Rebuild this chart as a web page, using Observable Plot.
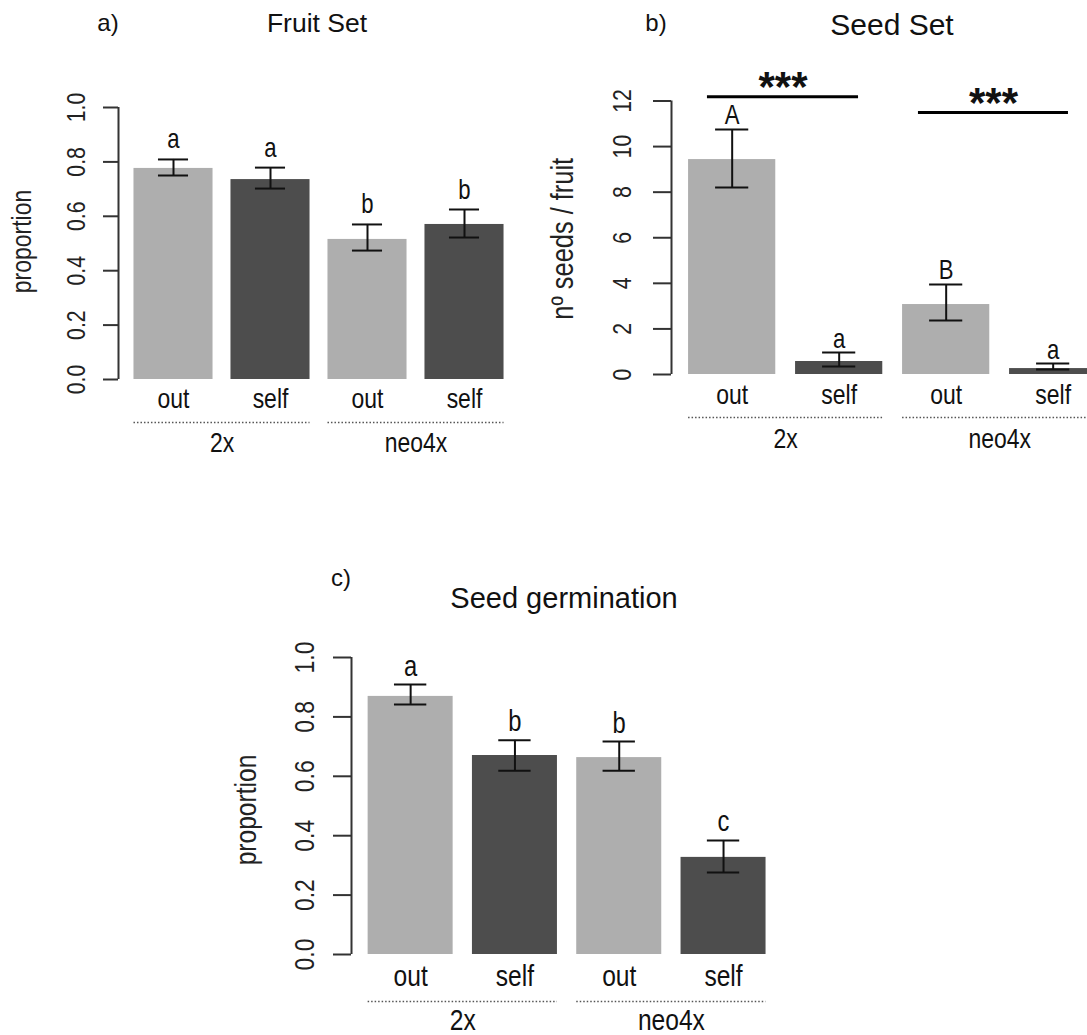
<!DOCTYPE html>
<html><head><meta charset="utf-8">
<script src="https://cdn.jsdelivr.net/npm/d3@7"></script>
<script src="https://cdn.jsdelivr.net/npm/@observablehq/plot@0.6"></script>
<style>
html,body{margin:0;padding:0;background:#fff;}
#page{position:relative;width:1087px;height:1035px;overflow:hidden;background:#fff;}
#page svg{position:absolute;left:0;top:0;}
#page svg [aria-label^="y-axis"] line, #page svg [aria-label^="y-axis"] path{stroke-width:2px;}
.lbl{position:absolute;font-family:"Liberation Sans",Arial,sans-serif;color:#111;white-space:nowrap;line-height:1;transform:translate(-50%,-50%);}
</style></head>
<body><div id="page"></div>
<script>
// ---- shared categories ----
const treatments = ["out", "self", "out", "self"];
const ploidy = ["2x", "2x", "neo4x", "neo4x"];
const groups = ["2x", "neo4x"];

// ---- a) Fruit Set ----
const fruitMean = [0.776, 0.735, 0.515, 0.570];
const fruitLow = [0.750, 0.702, 0.474, 0.522];
const fruitHigh = [0.809, 0.779, 0.570, 0.625];
const fruitLetters = ["a", "a", "b", "b"];
const fruitTicks = [0, 0.2, 0.4, 0.6, 0.8, 1.0];

// ---- b) Seed Set ----
const seedMean = [9.43, 0.57, 3.07, 0.26];
const seedLow = [8.20, 0.35, 2.37, 0.22];
const seedHigh = [10.75, 0.96, 3.95, 0.48];
const seedLetters = ["A", "a", "B", "a"];
const seedTicks = [0, 2, 4, 6, 8, 10, 12];
const sigLabels = ["***", "***"];
const sigY = [12.19, 11.49];
const sigFrom = [0.336, 2.308];
const sigTo = [1.748, 3.710];

// ---- c) Seed germination ----
const germMean = [0.869, 0.670, 0.663, 0.327];
const germLow = [0.842, 0.619, 0.619, 0.276];
const germHigh = [0.909, 0.721, 0.717, 0.384];
const germLetters = ["a", "b", "b", "c"];
const germTicks = [0, 0.2, 0.4, 0.6, 0.8, 1.0];

// ---- fonts: condensed look = regular face, narrowed and stretched across the line ----
const NF = '"Liberation Sans", Arial, Helvetica, sans-serif';   // stretched ("narrow") texts
const RF = '"Liberation Sans", Arial, sans-serif';              // normal texts
const nk = 0.82, STRETCH = 1 / 0.82;

const W = 1087, H = 1035;
const C0 = 0.567, HALF = 0.4075, CAP = 0.155;

function stretchTexts(svg) {
  svg.querySelectorAll("g").forEach(g => {
    if (g.getAttribute("font-family") !== NF) return;
    g.querySelectorAll("text").forEach(t => {
      const tr = t.getAttribute("transform");
      if (tr) t.setAttribute("transform", tr + ` scale(1,${STRETCH})`);
      else {
        const x = +t.getAttribute("x") || 0, y = +t.getAttribute("y") || 0;
        t.setAttribute("transform", `translate(${x},${y}) scale(1,${STRETCH}) translate(${-x},${-y})`);
      }
    });
  });
  return svg;
}

function panel(cfg) {
  const rows = cfg.mean.map((m, i) => ({
    pos: C0 + i, treatment: treatments[i], ploidy: ploidy[i],
    mean: m, low: cfg.low[i], high: cfg.high[i], letter: cfg.letters[i]
  }));
  const grp = groups.map((g, k) => ({
    g, from: C0 + 2 * k - HALF, to: C0 + 2 * k + 1 + HALF, mid: C0 + 2 * k + 0.5
  }));
  const xMax = Math.min(4.14, (W - cfg.axisX) / cfg.step);
  const marks = [
    Plot.rectY(rows, {x1: d => d.pos - HALF, x2: d => d.pos + HALF, y1: 0, y2: "mean", fill: "treatment"}),
    Plot.ruleX(rows, {x: "pos", y1: "low", y2: "high", stroke: "#111", strokeWidth: 2}),
    Plot.ruleY(rows, {y: "high", x1: d => d.pos - CAP, x2: d => d.pos + CAP, stroke: "#111", strokeWidth: 2}),
    Plot.ruleY(rows, {y: "low", x1: d => d.pos - CAP, x2: d => d.pos + CAP, stroke: "#111", strokeWidth: 2}),
    Plot.text(rows, {x: "pos", y: "high", text: "letter", lineAnchor: "bottom", dy: -cfg.letterGap,
      fontSize: cfg.letterSize * nk, fontFamily: NF, fill: "#111"}),
    Plot.ruleX([0], {y1: 0, y2: cfg.yMax, stroke: "#333", strokeWidth: 2}),
    Plot.text(cfg.ticks, {x: 0, y: d => d, text: cfg.fmt, rotate: -90, dx: cfg.tickDx, textAnchor: "middle",
      fontSize: cfg.tickFont * nk, fontFamily: NF, fill: "#222"}),
    Plot.text([cfg.yLabel], {frameAnchor: "left", rotate: -90, dx: cfg.yLabelDx, dy: cfg.yLabelDy, textAnchor: "middle",
      fontSize: cfg.yLabelSize * nk, fontFamily: NF, fill: "#222"}),
    Plot.text(rows, {x: "pos", y: 0, text: "treatment", lineAnchor: "bottom", dy: cfg.catBase,
      fontSize: cfg.catSize * nk, fontFamily: NF, fill: "#111"}),
    Plot.ruleY(grp, {y: 0, x1: "from", x2: "to", dy: cfg.dotY, stroke: "#555", strokeWidth: 1.5, strokeDasharray: "1.5,2"}),
    Plot.text(grp, {x: "mid", y: 0, text: "g", lineAnchor: "bottom", dy: cfg.grpBase,
      fontSize: cfg.catSize * nk, fontFamily: NF, fill: "#111"}),
    ...(cfg.extra || [])
  ];
  const svg = Plot.plot({
    width: W, height: H,
    marginLeft: cfg.axisX,
    marginRight: Math.max(0, W - cfg.axisX - xMax * cfg.step),
    marginTop: cfg.yTopPx,
    marginBottom: H - cfg.y0,
    x: {domain: [0, xMax], axis: null},
    y: {domain: [0, cfg.yMax], ticks: cfg.ticks, tickSize: cfg.tickSize, tickFormat: () => "", label: null},
    color: {domain: ["out", "self"], range: ["#AEAEAE", "#4D4D4D"]},
    style: {background: "transparent", color: "#333", overflow: "visible"},
    marks
  });
  return stretchTexts(svg);
}

const sig = sigLabels.map((s, k) => ({s, y: sigY[k], from: sigFrom[k], to: sigTo[k], mid: (sigFrom[k] + sigTo[k]) / 2}));

const page = document.getElementById("page");

page.appendChild(panel({
  mean: fruitMean, low: fruitLow, high: fruitHigh, letters: fruitLetters,
  ticks: fruitTicks, fmt: d3.format(".1f"), yMax: 1,
  axisX: 118, step: 97, y0: 379, yTopPx: 107, tickSize: 15,
  tickDx: -42, tickFont: 26, yLabel: "proportion", yLabelDx: -96, yLabelDy: -2, yLabelSize: 28,
  letterGap: 11, letterSize: 27, catSize: 28, catBase: 28, dotY: 43, grpBase: 72
}));

page.appendChild(panel({
  mean: seedMean, low: seedLow, high: seedHigh, letters: seedLetters,
  ticks: seedTicks, fmt: d3.format("d"), yMax: 12,
  axisX: 671, step: 107, y0: 374, yTopPx: 100.5, tickSize: 18,
  tickDx: -49, tickFont: 26, yLabel: "nº seeds / fruit", yLabelDx: -108, yLabelDy: 1, yLabelSize: 31,
  letterGap: 5, letterSize: 27, catSize: 28, catBase: 29, dotY: 43, grpBase: 73,
  extra: [
    Plot.ruleY(sig, {y: "y", x1: "from", x2: "to", stroke: "#000", strokeWidth: 3}),
    Plot.text(sig, {x: "mid", y: "y", text: "s", lineAnchor: "middle", dy: -9, fontSize: 42, fontWeight: "bold", fontFamily: RF, fill: "#111"})
  ]
}));

page.appendChild(panel({
  mean: germMean, low: germLow, high: germHigh, letters: germLetters,
  ticks: germTicks, fmt: d3.format(".1f"), yMax: 1,
  axisX: 351, step: 104.3, y0: 954, yTopPx: 657, tickSize: 18,
  tickDx: -46, tickFont: 28, yLabel: "proportion", yLabelDx: -105, yLabelDy: 4, yLabelSize: 30,
  letterGap: 9, letterSize: 29, catSize: 30, catBase: 31, dotY: 47, grpBase: 75
}));

// titles and panel tags
const labels = [
  {t: "a)", x: 108, y: 23, s: 24},
  {t: "Fruit Set", x: 317, y: 23, s: 26.5},
  {t: "b)", x: 656, y: 23, s: 24},
  {t: "Seed Set", x: 892, y: 25, s: 30},
  {t: "c)", x: 341, y: 578, s: 24},
  {t: "Seed germination", x: 564, y: 598, s: 29}
];
for (const l of labels) {
  const d = document.createElement("div");
  d.className = "lbl";
  d.textContent = l.t;
  d.style.left = l.x + "px";
  d.style.top = l.y + "px";
  d.style.fontSize = l.s + "px";
  page.appendChild(d);
}
</script>
</body></html>
